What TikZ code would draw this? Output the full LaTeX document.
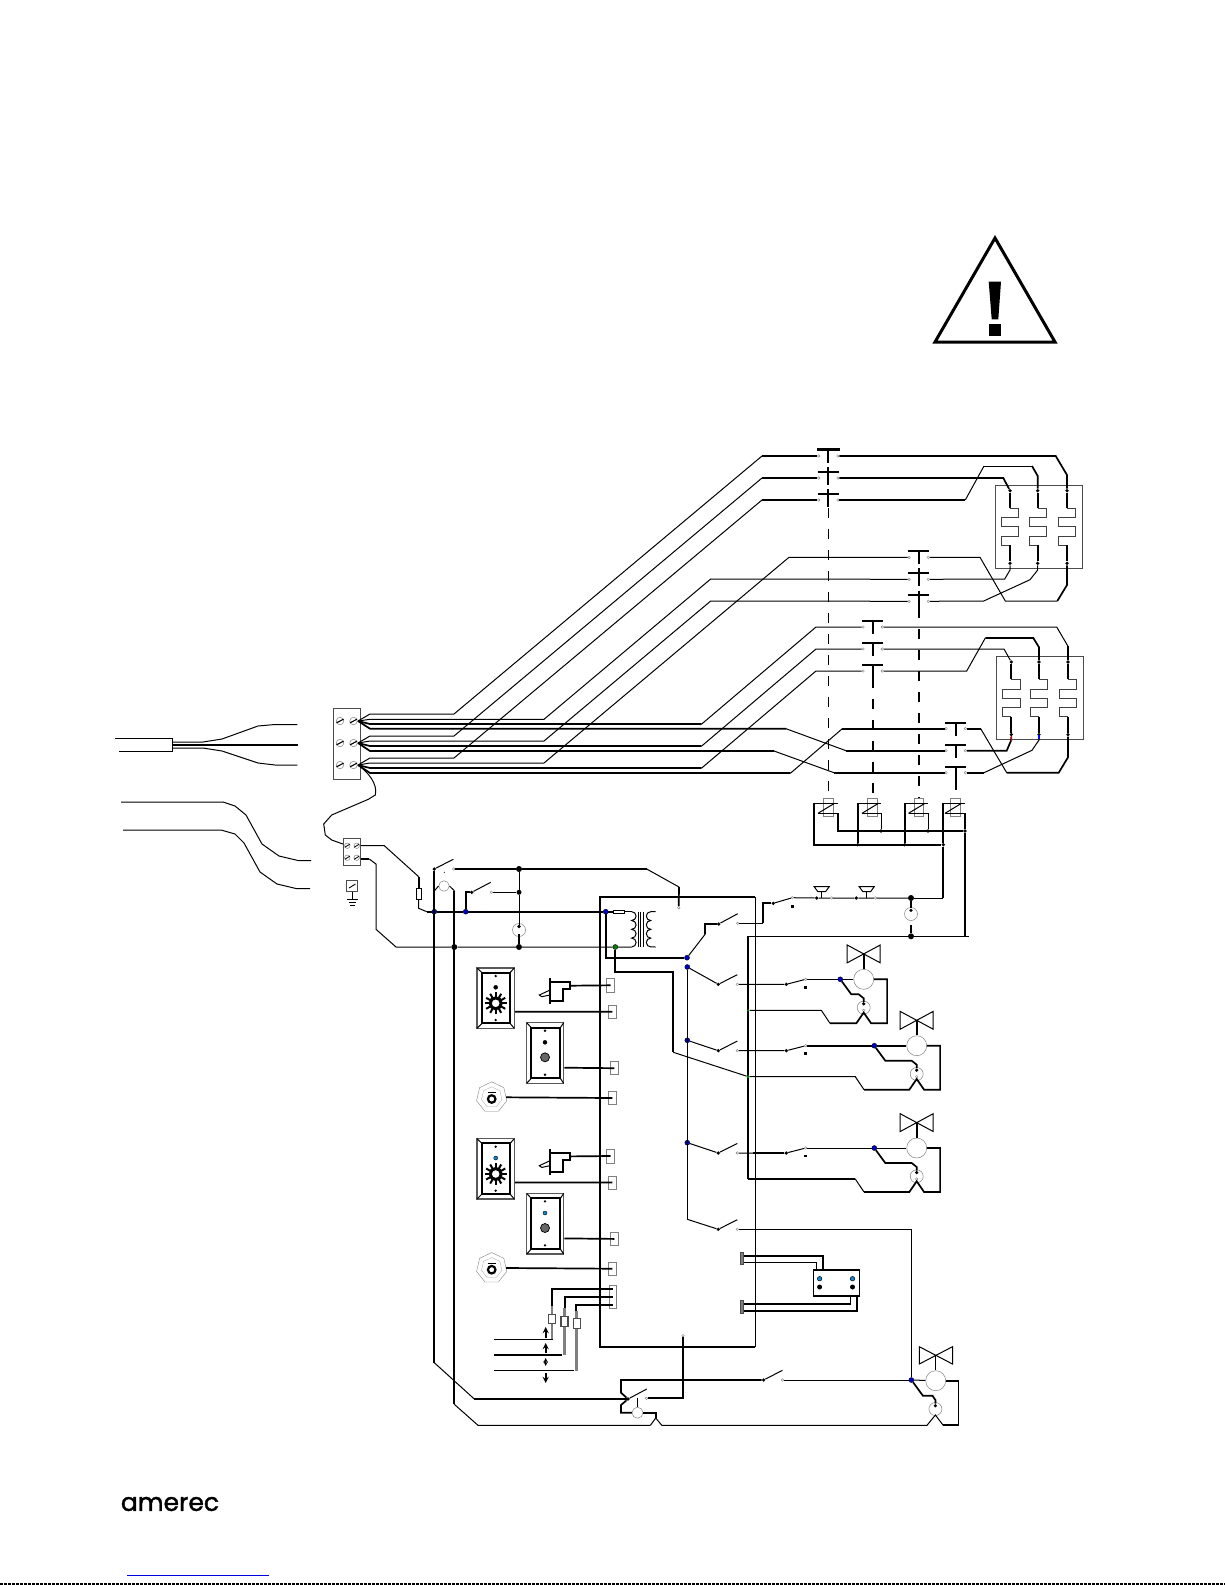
\documentclass[tikz,border=0pt]{standalone}
\usepackage{fontspec}
\newfontfamily\logofont[FakeBold=1.6]{Poppins}
\usetikzlibrary{positioning,shapes.geometric,calc}
\begin{document}
\begin{tikzpicture}[x=1pt,y=-1pt,>=stealth]
	% node styles
	\tikzstyle{wire} = [line width=1pt]
	\tikzstyle{hwire} = [line width=1.7pt]
	\tikzstyle{term} = [circle,draw=gray,fill=white,line width=0.4pt,inner sep=0pt,minimum size=2.6pt]
	\tikzstyle{jdot} = [circle,fill=black,inner sep=0pt,minimum size=3.6pt]
	\tikzstyle{bigdot} = [circle,fill=black,inner sep=0pt,minimum size=6pt]
	\tikzstyle{bluedot} = [circle,fill=blue!80!black,draw=black,line width=0.4pt,inner sep=0pt,minimum size=5pt]
	\tikzstyle{greendot} = [circle,fill=green!50!black,draw=black,line width=0.4pt,inner sep=0pt,minimum size=5pt]
	\tikzstyle{wdot} = [circle,fill=green!50!black,inner sep=0pt,minimum size=2.5pt]
	\tikzstyle{meter} = [circle,draw=gray,line width=0.5pt,inner sep=0pt,minimum size=20pt]
	\tikzstyle{lamp} = [circle,draw=gray,line width=0.5pt,inner sep=0pt,minimum size=13pt]
	\tikzstyle{screw} = [circle,draw=gray,line width=0.5pt,inner sep=0pt,minimum size=7.5pt]
	\tikzstyle{conn} = [rectangle,draw=gray,fill=white,line width=0.9pt,inner sep=0pt,minimum width=8pt,minimum height=13pt]
	\tikzstyle{probe} = [rectangle,draw=black!70,fill=white,line width=0.8pt,inner sep=0pt,minimum width=7pt,minimum height=9.5pt]
	\tikzstyle{plate} = [rectangle,draw=black!65,line width=1.3pt,inner sep=0pt]
	\tikzstyle{linkthin} = [line width=0.9pt,dash pattern=on 10pt off 11pt]
	\tikzstyle{linkbold} = [line width=1.9pt,dash pattern=on 10pt off 11pt]
	\useasboundingbox (0,0) rectangle (1225,1585);

	% warning sign
	\draw [line width=3pt,line join=miter] (995,238) -- (1055,342) -- (935,342) -- cycle;
	\fill (988.7,281.7) -- (1001,281.7) -- (998.3,319.3) -- (991.7,319.3) -- cycle;
	\fill (989,324) rectangle (1001.3,335.7);

	% footer
	\node [font=\logofont\fontsize{25}{25}\selectfont,inner sep=0pt] (logo) at (170,1504) {amerec};
	\coordinate (linkl) at (127,1575);
	\coordinate (linkr) at (269,1575);
	\draw [blue!90!black,line width=0.8pt] (linkl) -- (linkr);
	\coordinate (pagel) at (0,1584);
	\coordinate (pager) at (1225,1584);
	\draw [line width=1.4pt,dash pattern=on 3pt off 1pt] (pagel) -- (pager);

	% supply cable
	\node [inner sep=0pt] (cablea) at (298,724.7) {};
	\node [inner sep=0pt] (cableb) at (299,745) {};
	\node [inner sep=0pt] (cablec) at (298,765) {};
	\draw [wire] (115,738.5) -- (172.5,738.5) -- (172.5,751) -- (119,751);
	\draw [wire] (172,742) -- (203,742) -- (222,739) -- (258,726) -- (275,724.5) -- (cablea);
	\draw [hwire] (172,745) -- (cableb);
	\draw [wire] (172,748) -- (203,748) -- (222,751) -- (258,763) -- (275,765) -- (cablec);
	\draw [wire] (121,802) -- (223,802) -- (235,806) -- (246,815) -- (262,844) -- (279,856) -- (298,860.5) -- (311,860.5);
	\draw [wire] (123,830) -- (221,830) -- (235,834) -- (244,843) -- (260,872) -- (277,884) -- (296,888.5) -- (310,888.5);

	% terminal blocks
	\node [rectangle,draw=black!70,line width=0.9pt,minimum width=26.5pt,minimum height=70.5pt,inner sep=0pt] (tbmain) at (346.8,743.7) {};
	\foreach \sn/\sx/\sy in {a/340/721,b/340/743,c/340/765,d/353.5/721,e/353.5/743,f/353.5/765} {
		\node [screw] (sc\sn) at (\sx,\sy) {};
		\draw [line width=1.1pt] (\sx-3.5,\sy+1.8) -- (\sx+3.5,\sy-1.8);
	}
	\node [rectangle,draw=black!70,line width=0.8pt,minimum width=17.4pt,minimum height=27pt,inner sep=0pt] (tbctl) at (352,851.8) {};
	\foreach \sn/\sx/\sy in {g/347.3/845.7,h/356.7/845.7,i/347.3/857.7,j/356.7/857.7} {
		\node [screw,minimum size=5.5pt] (sc\sn) at (\sx,\sy) {};
		\draw [line width=0.8pt] (\sx-2.5,\sy+1.5) -- (\sx+2.5,\sy-1.5);
	}
	\node [rectangle,draw=black!70,line width=0.8pt,minimum width=11pt,minimum height=10.6pt,inner sep=0pt] (gndblock) at (352.2,886) {};
	\draw [line width=0.9pt] (349,888) -- (355.5,884);
	\draw [wire] (gndblock) -- (352.2,899);
	\draw [wire] (347,899) -- (357.7,899);
	\draw [wire] (348.7,902) -- (356,902);
	\draw [line width=1.2pt] (350,905.5) -- (354.6,905.5);

	% feed from the main block to the control block
	\coordinate (fa) at (358,721);
	\coordinate (fb) at (358,743);
	\coordinate (fc) at (358,765);
	\draw [wire] (fc) .. controls (368,772) and (378,784) .. (375.3,795) -- (368.3,799.3) -- (331.7,815) -- (323.7,824) -- (325.3,835) -- (331.7,840) -- (tbctl.west |- 0,844);

	% power contactors
	\foreach \kn/\kx/\ky in {ka/828.3/456,kb/872.7/627,kc/918.7/557.3,kd/955.7/728.7} {
		\foreach \ki in {1,2,3} {
			\node [term] (\kn l\ki) at (\kx-9.6,\ky+22*\ki-22) {};
			\node [term] (\kn r\ki) at (\kx+9.6,\ky+22*\ki-22) {};
			\draw [hwire] (\kx-10.5,\ky+22*\ki-28) -- (\kx+10.5,\ky+22*\ki-28);
			\draw [hwire] (\kx,\ky+22*\ki-28) -- (\kx,\ky+22*\ki-15);
		}
	}
	\draw [line width=2.6pt] (817,449.7) -- (839.5,449.7);
	\foreach \cx/\cy in {828.3/467,828.3/488.7,918.7/568,918.7/590.7} {
		\draw [hwire] (\cx,\cy) -- (\cx,\cy+5);
	}
	\draw [linkthin] (828.3,508) -- (828.3,793);
	\draw [linkbold] (872.7,678) -- (872.7,798);
	\draw [linkbold] (918.7,608) -- (918.7,798);
	\draw [linkbold] (955.7,780) -- (955.7,798);

	% overload relays
	\node [rectangle,draw=black!70,line width=0.9pt,minimum width=87pt,minimum height=82.7pt,inner sep=0pt] (olupper) at (1038.8,526.6) {};
	\node [rectangle,draw=black!70,line width=0.9pt,minimum width=86.6pt,minimum height=82.6pt,inner sep=0pt] (ollower) at (1040,698) {};
	\foreach \hn/\hx/\hy in {ha/1010/490.7,hb/1037.7/490.7,hc/1067/490.7,hd/1011.3/662,he/1039/662,hf/1068/662} {
		\node [jdot] (\hn t) at (\hx,\hy) {};
		\node [jdot] (\hn b) at (\hx,\hy+72.6) {};
		\draw [line width=1pt,draw=black!75] (\hx,\hy+17.3) -- ++(8.7,0) -- ++(0,9.7) -- ++(-17.4,0) -- ++(0,9) -- ++(17.4,0) -- ++(0,9.3) -- ++(-17.4,0) -- ++(0,9.3) -- ++(8.7,0);
		\draw [hwire] (\hn t) -- (\hx,\hy+17.3);
		\draw [hwire] (\hx,\hy+54.6) -- (\hn b);
	}

	% mains wiring, left of the contactors
	\draw [wire] (fa) -- (370,714) -- (454,714) -- (762,456);
	\draw [hwire] (762,456) -- (kal1);
	\draw [wire] (fb) -- (370,736) -- (454,736) -- (762,478);
	\draw [hwire] (762,478) -- (kal2);
	\draw [wire] (fc) -- (370,758) -- (454,758) -- (762,500);
	\draw [hwire] (762,500) -- (kal3);
	\draw [wire] (fc) -- (370,763) -- (544,763) -- (789,557.3) -- (kcl1);
	\draw [wire] (fa) -- (370,719.3) -- (544,719.3) -- (710.7,579) -- (kcl2);
	\draw [wire] (fb) -- (370,741) -- (544,741) -- (710.7,601) -- (kcl3);
	\draw [hwire] (fa) -- (370,724) -- (701.7,724);
	\draw [wire] (701.7,724) -- (816,627) -- (kbl1);
	\draw [hwire] (fb) -- (370,746) -- (701.7,746);
	\draw [wire] (701.7,746) -- (816,649) -- (kbl2);
	\draw [hwire] (fc) -- (370,768) -- (701.7,768);
	\draw [wire] (701.7,768) -- (816,671) -- (kbl3);
	\draw [hwire] (fa) -- (370,728.7) -- (786,728.7);
	\draw [wire] (786,728.7) -- (846,750.7);
	\draw [hwire] (846,750.7) -- (kdl2);
	\draw [hwire] (fb) -- (370,751) -- (774,751);
	\draw [wire] (774,751) -- (834,772.7);
	\draw [hwire] (834,772.7) -- (kdl3);
	\draw [hwire] (fc) -- (370,773) -- (790.7,773);
	\draw [wire] (790.7,773) -- (842.3,728.7);
	\draw [hwire] (842.3,728.7) -- (kdl1);

	% wiring, right of the contactors
	\draw [hwire] (kar1) -- (1055.7,456) -- (1067,475) -- (hct);
	\draw [hwire] (kar2) -- (1003.3,478) -- (hat);
	\draw [hwire] (kar3) -- (965.3,500);
	\draw [wire] (965.3,500) -- (984,466);
	\draw [wire] (984,466) -- (1032,466);
	\draw [hwire] (1032,466) -- (1037.7,476) -- (hbt);
	\draw [wire] (hbb) -- (1037.7,570) -- (1030,579.7) -- (983.7,601) -- (kcr3);
	\draw [wire] (hab) -- (1010,570) -- (1004.7,579) -- (kcr2);
	\draw [hwire] (hcb) -- (1067,585) -- (1057.3,601);
	\draw [wire] (1057.3,601) -- (1005.3,601) -- (980,557.3) -- (kcr1);
	\draw [wire] (kbr1) -- (1056.7,627) -- (1068,646.3);
	\draw [hwire] (1068,646.3) -- (hft);
	\draw [wire] (kbr2) -- (1004,649) -- (hdt);
	\draw [wire] (kbr3) -- (966.7,671) -- (985.3,638);
	\draw [hwire] (985.3,638) -- (1033.3,638) -- (1039,647.3) -- (het);
	\draw [hwire] (hdb) -- (1011.3,740) -- (1006.7,750.7) -- (kdr2);
	\draw [red!80!black,line width=1pt] (1011.3,736) -- (1011.3,741);
	\draw [wire] (heb) -- (1039,740) -- (1032,750.3) -- (984,772.7);
	\draw [hwire] (984,772.7) -- (kdr3);
	\draw [blue,line width=1.4pt] (1039,735) -- (1039,738.5);
	\draw [hwire] (hfb) -- (1068,757.3) -- (1058.7,772.7) -- (1006.7,772.7);
	\draw [wire] (1006.7,772.7) -- (980.7,728.7);
	\draw [hwire] (980.7,728.7) -- (kdr1);

	% contactor coils
	\foreach \cn/\cx/\lx/\rx in {ca/828.5/814/838,cb/872.5/857.7/881,cc/919/904.7/928,cd/955.5/943.3/965} {
		\node [rectangle,draw=gray,line width=0.9pt,minimum width=9.6pt,minimum height=17.3pt,inner sep=0pt] (coil\cn) at (\cx,807.3) {};
		\draw [wire] (\lx,803.3) -- (\rx,803.3);
		\draw [wire] (\cx-10.5,813.3) -- (\rx,813.3);
		\draw [wire] (\cx-10.5,813.3) -- (\cx+6,803.3);
	}
	\node [jdot] (cjb) at (881,831) {};
	\node [jdot] (cjc) at (928,831) {};
	\node [jdot] (cjd) at (965,831) {};
	\node [jdot] (cje) at (857.7,844.7) {};
	\node [jdot] (cjf) at (904.7,844.7) {};
	\node [jdot] (cjg) at (943.3,844.7) {};
	\draw [hwire] (838,813.3) -- (838,831) -- (cjd);
	\draw [wire] (881,813.3) -- (cjb);
	\draw [wire] (928,813.3) -- (cjc);
	\draw [hwire] (814,803.3) -- (814,844.7) -- (cjg);
	\draw [hwire] (857.7,803.3) -- (cje);
	\draw [hwire] (904.7,803.3) -- (cjf);
	\draw [hwire] (943.3,803.3) -- (cjg);
	\draw [hwire] (965,813.3) -- (cjd);

	% controller box
	\draw [hwire] (755.3,896.7) -- (600,896.7) -- (600,1347.3) -- (755.3,1347.3);
	\draw [wire] (755.3,896.7) -- (755.3,1347.3);

	% incoming control feed
	\node [rectangle,draw=black,fill=white,line width=0.7pt,minimum width=4.7pt,minimum height=10.7pt,inner sep=0pt] (fusea) at (418.7,893.7) {};
	\node [bluedot] (rja) at (434.3,911.7) {};
	\node [bluedot] (rjb) at (465.7,911.7) {};
	\node [bluedot] (rjc) at (605.7,911.7) {};
	\node [greendot] (njc) at (615.3,947) {};
	\node [bigdot] (nja) at (454.3,947) {};
	\node [bigdot] (njb) at (519,947) {};
	\node [rectangle,draw=black,fill=white,line width=0.7pt,minimum width=11pt,minimum height=3.4pt,inner sep=0pt] (fuseb) at (618.8,911.7) {};
	\draw [wire] (tbctl.east |- 0,845.7) -- (384.3,845.7) -- (418.7,876.7);
	\draw [hwire] (418.7,876.7) -- (fusea);
	\draw [wire] (fusea) -- (418.7,908.3) -- (426.7,911.7);
	\draw [hwire] (426.7,911.7) -- (rja) -- (rjb) -- (rjc) -- (fuseb);
	\draw [hwire] (tbctl.east |- 0,859) -- (369.3,859);
	\draw [wire] (369.3,859) -- (376,864) -- (376,929.3) -- (396,947) -- (nja) -- (njb) -- (njc) -- (631.7,947);

	% transformer
	\coordinate (pria) at (631.7,911.7);
	\coordinate (secb) at (655.7,947);
	\coordinate (seca) at (655.7,911.7);
	\draw [wire] (fuseb) -- (pria);
	\draw [wire] (pria) arc (-90:90:4.4) arc (-90:90:4.4) arc (-90:90:4.4) arc (-90:90:4.4);
	\draw [wire] (seca) -- ++(-5,0) arc (270:90:4.4) arc (270:90:4.4) arc (270:90:4.4) arc (270:90:4.4) -- (secb);
	\draw [line width=1.1pt] (638.3,911.7) -- (638.3,947);
	\draw [line width=1.1pt] (640.6,911.7) -- (640.6,947);
	\draw [line width=1.1pt] (643.3,911.7) -- (643.3,947);

	% door and float contacts
	\node [jdot] (dsp) at (434.3,869) {};
	\node [term] (dst) at (453.7,869) {};
	\node [lamp,minimum size=10.5pt] (dsl) at (444,886) {};
	\node [jdot,minimum size=1.2pt] (dsd) at (444.3,872.3) {};
	\node [bigdot] (hja) at (519,869) {};
	\node [bigdot,minimum size=5pt] (hjb) at (519,892.3) {};
	\node [term] (hst) at (491.3,892.3) {};
	\node [jdot] (hsp) at (471.7,892.3) {};
	\node [lamp] (hsl) at (519,930) {};
	\node [jdot] (hsd) at (519,926.5) {};
	\node [term] (ctopt) at (678.7,907.7) {};
	\draw [wire] (dsp) -- (453.3,859.3);
	\draw [hwire] (dst) -- (hja) -- (646.7,869);
	\draw [wire] (646.7,869) -- (679,887);
	\draw [hwire] (679,887) -- (ctopt);
	\draw [hwire] (rjb) -- (465.7,892.3) -- (hsp);
	\draw [wire] (hsp) -- (490.7,882.3);
	\draw [wire] (hst) -- (hjb);
	\draw [wire] (hja) -- (hjb) -- (hsd);
	\draw [hwire] (519,934) -- (njb);
	\draw [hwire] (dsp) -- (434.3,1362.7);
	\draw [wire] (434.3,1362.7) -- (474.3,1399);
	\draw [hwire] (474.3,1399) -- (628,1399);
	\draw [wire] (dsl.east) -- (454.3,890.7);
	\draw [hwire] (454.3,890.7) -- (454.3,1404.3);
	\draw [wire] (454.3,1404.3) -- (478,1425.3) -- (650.4,1425.3);
	\draw [wire] (dsl.west) -- (434.3,891);

	% relay contacts inside the controller
	\node [bluedot] (cja) at (687,957.7) {};
	\node [bluedot] (cjh) at (687.3,967) {};
	\node [bluedot] (cji) at (687.3,1040.3) {};
	\node [bluedot] (cjj) at (687.3,1142.7) {};
	\coordinate (cjk) at (687.3,1219.3);
	\draw [hwire] (rjc) -- (605.7,957.7) -- (cja);
	\draw [wire] (cjh) -- (cjk);
	\foreach \cn/\cy/\cj in {ca/984.3/cjh,cb/1050.7/cji,cc/1153/cjj,cd/1229.3/cjk} {
		\node [jdot] (\cn p) at (718.3,\cy) {};
		\node [term] (\cn t) at (737.3,\cy) {};
		\draw [wire] (\cj) -- (\cn p) -- (737.3,\cy-9.6);
	}
	\node [jdot] (tsp) at (718.7,924) {};
	\node [term] (tst) at (737.7,923.3) {};
	\draw [wire] (cja) -- (705.3,934);
	\draw [hwire] (705.3,934) -- (705.3,924) -- (tsp);
	\draw [wire] (tsp) -- (737.7,913.7);

	% interlock chain to the coils
	\node [jdot] (ilp) at (773.3,903.3) {};
	\node [term] (ilt) at (792.3,897.7) {};
	\node [jdot,rectangle,minimum size=2.5pt] (ils) at (792.3,906.7) {};
	\node [jdot] (nza) at (816.7,898) {};
	\node [term] (nzb) at (831.7,898) {};
	\node [jdot] (nzc) at (856.3,898) {};
	\node [term] (nzd) at (875.7,898) {};
	\node [bigdot] (mja) at (911,898) {};
	\node [bigdot] (mjb) at (911,936.3) {};
	\node [lamp] (mjl) at (911,914) {};
	\node [jdot] (mjd) at (911,910.3) {};
	\draw [wire] (tst) -- (763.3,923.3);
	\draw [hwire] (763.3,923.3) -- (763.3,903.3) -- (ilp);
	\draw [wire] (ilp) -- (ilt) -- (nza) -- (nzb) -- (nzc) -- (nzd) -- (mja);
	\foreach \nx in {821.7,866.7} {
		\draw [line width=1pt,fill=white] (\nx-7.5,886.7) -- (\nx+7.5,886.7) -- (\nx+4,891.5) -- (\nx-4,891.5) -- cycle;
		\draw [wire] (\nx,891.5) -- (\nx,898);
	}
	\draw [hwire] (mja) -- (mjd);
	\draw [hwire] (911,925) -- (mjb);
	\draw [wire] (mja) -- (943.3,898);
	\draw [hwire] (943.3,898) -- (cjg);
	\draw [wire] (748.3,936.3) -- (mjb) -- (969.3,936.3);
	\draw [hwire] (cjd) -- (965,936.3);
	\draw [hwire] (748.3,936.3) -- (748.3,1179.3);

	% second feed through the controller
	\node [wdot] (gwa) at (748.3,1010.3) {};
	\node [wdot,minimum size=3.2pt] (gwb) at (748.3,1076.7) {};
	\node [coordinate] (gwc) at (748.3,1179) {};
	\draw [hwire] (njc) -- (615.3,971.7) -- (673.3,971.7) -- (673.3,1052.3);
	\draw [wire] (673.3,1052.3) -- (gwb);

	% solenoid valves
	\foreach \vn/\bx/\cx/\vy/\lx/\gw in {va/840.3/863.7/979.3/830/gwa,vb/874.3/916.7/1045.7/864/gwb,vc/874.3/916.7/1148/864/gwc} {
		\node [bluedot] (\vn j) at (\bx,\vy) {};
		\node [meter] (\vn m) at (\cx,\vy) {};
		\node [lamp] (\vn l) at (\cx,\vy+28.3) {};
		\node [jdot] (\vn d) at (\cx,\vy+24.5) {};
		\node [term] (\vn t) at (\cx,\vy+31) {};
		\draw [line width=1pt] (\cx-16.5,\vy-34.3) -- (\cx+16.5,\vy-16.5) -- (\cx+16.5,\vy-34.3) -- (\cx-16.5,\vy-16.5) -- cycle;
		\draw [hwire] (\cx,\vy-25.4) -- (\vn m);
		\draw [wire] (\vn j) -- (\vn m);
		\draw [hwire] (\vn j) -- ++(11,15) -- (\cx-5,\vy+15) -- (\cx,\vy+19) -- (\vn d);
		\draw [hwire] (\vn m) -- (\cx+23.4,\vy) -- ++(0,44) -- ++(-16,0) -- (\cx,\vy+33.3) -- (\cx-7.4,\vy+44) -- (\lx,\vy+44);
		\draw [wire] (\lx,\vy+44) -- (\lx-8.7,\vy+31) -- (\gw);
	}
	\draw [hwire] (855.3,1179) -- (gwc);

	% auxiliary contacts ahead of the valves
	\foreach \an/\cn/\vn/\ay in {xa/ca/va/984.3,xb/cb/vb/1050.7,xc/cc/vc/1153} {
		\node [jdot] (\an p) at (786.3,\ay) {};
		\node [term] (\an t) at (805.7,\ay-5) {};
		\node [jdot,rectangle,minimum size=2.5pt] (\an s) at (805.7,\ay+3) {};
		\draw [wire] (\cn t) -- (\an p) -- (\an t);
		\draw [wire] (\an t) -- (\vn j);
	}
	\draw [hwire] (xbt) -- (vbj) -- (vbm);
	\draw [hwire] (753,1153) -- (xcp);

	% front panel controls, upper and lower group
	\foreach \gn/\dy/\ledcol in {a/0/black,b/170.7/cyan!70!blue} {
		% selector plate
		\node [plate,minimum width=37.3pt,minimum height=60.3pt] (pl\gn) at (495.7,998.2+\dy) {};
		\draw [line width=2.1pt] (482,972.7+\dy) rectangle (510,1023.3+\dy);
		\draw [wire] (477,968+\dy) -- (482,972.7+\dy) (514.3,968+\dy) -- (510,972.7+\dy) (477,1028.3+\dy) -- (482,1023.3+\dy) (514.3,1028.3+\dy) -- (510,1023.3+\dy);
		\node [jdot,minimum size=2.6pt] (pl\gn t) at (495.7,976+\dy) {};
		\node [jdot,minimum size=2.6pt] (pl\gn b) at (495.7,1020+\dy) {};
		\node [circle,fill=\ledcol,draw=black,line width=0.4pt,inner sep=0pt,minimum size=4pt] (pl\gn l) at (495.7,987.3+\dy) {};
		\foreach \ga in {0,30,...,330} {
			\draw [line width=2pt] ($(495.7,1003.3+\dy)+(\ga:6)$) -- ($(495.7,1003.3+\dy)+(\ga:11)$);
		}
		\node [circle,draw=black,fill=white,line width=3pt,inner sep=0pt,minimum size=11pt] (kn\gn) at (495.7,1003.3+\dy) {};
		% reset plate
		\node [plate,minimum width=37pt,minimum height=60.6pt] (pb\gn) at (545.2,1053+\dy) {};
		\draw [line width=2.1pt] (531.3,1027.7+\dy) rectangle (560.3,1078.3+\dy);
		\draw [wire] (526.7,1022.7+\dy) -- (531.3,1027.7+\dy) (563.7,1022.7+\dy) -- (560.3,1027.7+\dy) (526.7,1083.3+\dy) -- (531.3,1078.3+\dy) (563.7,1083.3+\dy) -- (560.3,1078.3+\dy);
		\node [jdot,minimum size=2.6pt] (pb\gn t) at (545,1030.7+\dy) {};
		\node [jdot,minimum size=2.6pt] (pb\gn b) at (545,1074.7+\dy) {};
		\node [circle,fill=\ledcol,draw=black,line width=0.4pt,inner sep=0pt,minimum size=4pt] (pb\gn l) at (545,1042.3+\dy) {};
		\node [circle,fill=black!60,draw=black,line width=0.7pt,inner sep=0pt,minimum size=9pt] (bt\gn) at (545,1057.3+\dy) {};
		% timer
		\node [regular polygon,regular polygon sides=7,draw=gray,line width=0.4pt,inner sep=0pt,minimum size=31pt] (tm\gn) at (491.7,1097.3+\dy) {};
		\node [regular polygon,regular polygon sides=7,draw=gray!70,line width=0.3pt,inner sep=0pt,minimum size=21pt] (tn\gn) at (491.7,1097.3+\dy) {};
		\node [circle,draw=black,fill=white,line width=2.2pt,inner sep=0pt,minimum size=7.5pt] (td\gn) at (491.7,1099+\dy) {};
		\draw [line width=0.7pt] (487.5,1092.3+\dy) -- (496,1092.3+\dy);
		% pressure switch
		\draw [hwire] (550,978.3+\dy) -- (550,1004+\dy);
		\draw [hwire] (550,982+\dy) -- (570,982+\dy) -- (570,989+\dy) -- (563.3,989+\dy) -- (563.3,1001+\dy) -- (550,1001+\dy);
		\draw [wire] (550,990+\dy) -- (539.3,995+\dy) -- (541.7,996.7+\dy) -- (550,995+\dy);
		% connectors on the controller edge
		\node [conn,minimum height=14pt] (cn\gn a) at (610.5,985.3+\dy) {};
		\node [conn] (cn\gn b) at (612.3,1011.8+\dy) {};
		\node [conn] (cn\gn c) at (614.3,1068.2+\dy) {};
		\node [conn] (cn\gn d) at (612.3,1098+\dy) {};
		\draw [hwire] (570,985.7+\dy) -- (cn\gn a.center);
		\draw [hwire] (pl\gn.east |- 0,1011.7+\dy) -- (cn\gn b.center);
		\draw [hwire] (pb\gn.east |- 0,1067.7+\dy) -- (cn\gn c.center);
		\draw [hwire] (tm\gn.east |- 0,1097.3+\dy) -- (cn\gn d.center);
	}

	% level probes
	\node [conn,minimum width=7.7pt,minimum height=23.4pt] (cnprobe) at (612.8,1297) {};
	\draw [line width=2.6pt,gray] (552,1306) -- (552,1339.3);
	\draw [line width=2.6pt,gray] (564.4,1308.3) -- (564.4,1354.7);
	\draw [line width=3pt,gray] (576.8,1310.7) -- (576.8,1370.7);
	\node [probe] (pra) at (552,1319) {};
	\node [probe,line width=1.3pt] (prb) at (564.4,1321.4) {};
	\node [probe] (prc) at (576.8,1323.5) {};
	\draw [hwire] (cnprobe.center |- 0,1288.7) -- (552,1288.7) -- (552,1306);
	\draw [hwire] (cnprobe.center |- 0,1297) -- (565,1297) -- (565,1308);
	\draw [hwire] (cnprobe.center |- 0,1305) -- (576.3,1305) -- (576.3,1310.7);
	\draw [wire] (494,1339) -- (553,1339);
	\draw [hwire] (494,1354.7) -- (562,1354.7);
	\draw [wire] (494,1370) -- (574,1370);
	\draw [->,hwire] (545.7,1338) -- (545.7,1327);
	\draw [->,hwire] (545.7,1353) -- (545.7,1343);
	\draw [<->,line width=1pt,>=stealth] (545.7,1358) -- (545.7,1366);
	\draw [->,hwire] (545.7,1373) -- (545.7,1383);

	% alarm relay
	\node [rectangle,draw=black,line width=1.6pt,inner sep=0pt,minimum width=45.7pt,minimum height=26pt] (alarm) at (836.5,1283) {};
	\foreach \an/\ax in {l/819.6,r/852.5} {
		\node [circle,fill=cyan!70!blue,draw=black,line width=0.5pt,inner sep=0pt,minimum size=4.5pt] (al\an t) at (\ax,1278.7) {};
		\node [circle,fill=black,inner sep=0pt,minimum size=5pt] (al\an b) at (\ax,1287) {};
	}
	\node [rectangle,draw=black!70,fill=black!50,line width=0.6pt,inner sep=0pt,minimum width=3.2pt,minimum height=12.4pt] (cnal) at (742,1258.5) {};
	\node [rectangle,draw=black!70,fill=black!50,line width=0.6pt,inner sep=0pt,minimum width=3.2pt,minimum height=12.4pt] (cnam) at (742,1306.7) {};
	\draw [hwire] (cnal.east |- 0,1255.7) -- (822.9,1255.7) -- (822.9,1270);
	\draw [wire] (cnal.east |- 0,1262.3) -- (816.4,1262.3) -- (816.4,1270);
	\draw [hwire] (cnam.east |- 0,1303.7) -- (850.4,1303.7) -- (850.4,1296);
	\draw [hwire] (cnam.east |- 0,1311) -- (856.8,1311) -- (856.8,1296);

	% bottom drain circuit
	\node [bluedot] (dvj) at (911.4,1380) {};
	\node [meter] (dvm) at (935.7,1380.7) {};
	\node [lamp] (dvl) at (935.4,1409) {};
	\node [jdot] (dvd) at (935.4,1405.7) {};
	\node [term] (ct1) at (782.5,1380) {};
	\node [jdot] (cp1) at (763.6,1380) {};
	\node [term] (ct2) at (646.4,1398.3) {};
	\node [jdot] (cp2) at (628,1399) {};
	\node [term] (cbot) at (683,1335.7) {};
	\node [lamp,minimum size=11pt] (dsm) at (637.5,1412.7) {};
	\draw [wire] (cdt) -- (911.4,1229.3) -- (dvj);
	\draw [line width=1pt] (919.3,1346.7) -- (952.5,1364) -- (952.5,1346.7) -- (919.3,1364) -- cycle;
	\draw [wire] (935.7,1355) -- (dvm);
	\draw [wire] (dvj) -- (dvm);
	\draw [wire] (ct1) -- (dvj);
	\draw [wire] (cp1) -- (782.5,1370.3);
	\draw [hwire] (dvj) -- (922.9,1395.7) -- (932.5,1395.7) -- (935.4,1400) -- (dvd);
	\draw [hwire] (dvm) -- (958.6,1380.7) -- (958.6,1425.3) -- (943.2,1425.3);
	\draw [wire] (943.2,1425.3) -- (935.4,1415) -- (927,1425.3) -- (661.8,1425.3) -- (655.7,1418) -- (650.4,1425.3);
	\draw [hwire] (cp1) -- (621,1380) -- (621,1392.7) -- (cp2);
	\draw [wire] (cp2) -- (646.8,1389);
	\draw [hwire] (ct2) -- (683,1398.3) -- (cbot);
	\draw [hwire] (cp2) -- (621,1405) -- (621,1412.7) -- (dsm);
	\draw [wire] (637.5,1398) -- (637.5,1407);
	\draw [hwire] (dsm) -- (655.7,1412.7) -- (655.7,1418);
\end{tikzpicture}
\end{document}
